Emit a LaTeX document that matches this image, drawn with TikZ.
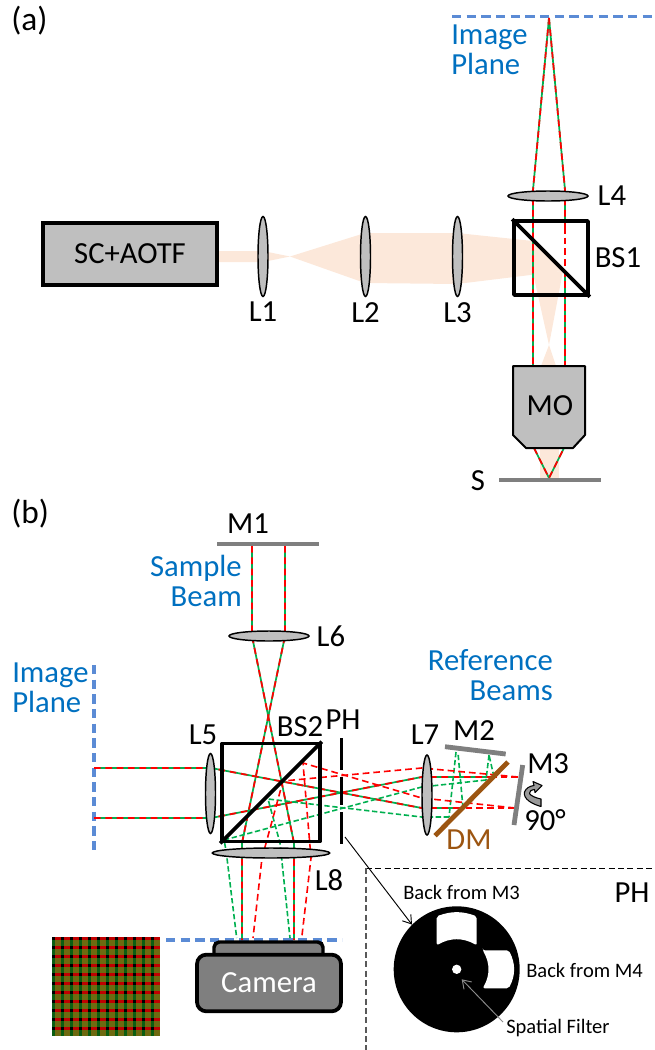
\documentclass[tikz,border=0pt]{standalone}
\usepackage{fontspec}
\setmainfont{Carlito}
\usepackage{xcolor}
\usetikzlibrary{positioning,calc,shapes.geometric,arrows.meta}
\definecolor{beamfill}{HTML}{FCE8DA}
\definecolor{lensgray}{HTML}{BFBFBF}
\definecolor{bargray}{HTML}{7F7F7F}
\definecolor{planeblue}{HTML}{5B8BD5}
\definecolor{textblue}{HTML}{0070C0}
\definecolor{raygreen}{HTML}{00B050}
\definecolor{rayred}{HTML}{FF0000}
\definecolor{dmbrown}{HTML}{9C5511}
\definecolor{mixolive}{HTML}{6E6A10}
\definecolor{mixgreen}{HTML}{0B5E12}
\definecolor{mixred}{HTML}{C00000}

\begin{document}
\begin{tikzpicture}[
  x=0.75pt, y=-0.75pt,
  lbl/.style={font=\fontsize{23}{22.5}\selectfont, inner sep=0pt},
  small/.style={font=\fontsize{15.4}{18}\selectfont, inner sep=0pt},
  bluelbl/.style={lbl, text=textblue},
  lensv/.style={shape=ellipse, draw=black, fill=lensgray, line width=1.1pt, inner sep=0pt, minimum width=7.5pt, minimum height=60pt},
  lensh/.style={shape=ellipse, draw=black, fill=lensgray, line width=1.1pt, inner sep=0pt},
  cube/.style={draw=black, line width=2.8pt, inner sep=0pt, line join=round},
  bar/.style={draw=bargray, line width=3.6pt},
  imgplane/.style={draw=planeblue, line width=2.6pt, dash pattern=on 7pt off 4pt},
  beam/.style={fill=beamfill, draw=none},
  rgray/.style={draw=raygreen, line width=1.3pt, postaction={draw=rayred, line width=1.3pt, dash pattern=on 5pt off 3.5pt}},
  redray/.style={draw=rayred, line width=1.2pt, dash pattern=on 5pt off 3pt},
  greenray/.style={draw=raygreen, line width=1.2pt, dash pattern=on 4pt off 2pt},
]
\useasboundingbox (0,0) rectangle (655,1050);

% ---------- Panel (a) ----------
\node[lbl, anchor=west] (tagA) at (11,21) {\fontsize{25}{26}\selectfont (a)};
% excitation beam
\fill[beam] (217,251) -- (263,251) -- (290,256.5) -- (365,233) -- (457,233) -- (533,241) -- (563,271) -- (457,284) -- (365,283) -- (290,256.5) -- (263,262) -- (217,262) -- cycle;
\fill[beam] (533,273) -- (563,271) -- (549,345) -- cycle;
\fill[beam] (549,345) -- (541,366) -- (556,366) -- cycle;
\fill[beam] (540,448) -- (559,448) -- (559,478) -- (540,478) -- cycle;
% image plane and rays
\draw[imgplane] (452,16.5) -- (655,16.5);
\draw[rgray] (549,18) -- (533,190) -- (533,366);
\draw[rgray] (549,18) -- (565,190) -- (565,227);
\draw[redray] (565,227) -- (565,270);
\draw[rgray] (565,270) -- (565,366);
\draw[rgray] (534,448) -- (549,478) -- (564,448);
\node[bluelbl, anchor=west, align=left] (planeA) at (451,50) {Image\\Plane};

\node[draw=black, fill=lensgray, line width=2.8pt, minimum width=130.5pt, minimum height=46.5pt, lbl] (source) at (130,254) {SC+AOTF};
\node[lensv] (Lone) at (263,256.5) {};
\node[lensv] (Ltwo) at (365.5,256.5) {};
\node[lensv] (Lthree) at (457.5,256.5) {};
\node[lensh, minimum width=60pt, minimum height=7.5pt] (Lfour) at (548,196) {};
\node[lbl, below=3.5pt of Lone] (lblone) {L1};
\node[lbl, below=3.5pt of Ltwo] (lbltwo) {L2};
\node[lbl, below=3.5pt of Lthree] (lblthree) {L3};
\node[lbl, right=6.5pt of Lfour] (lblfour) {L4};
\node[cube, minimum size=55.5pt] (BSone) at (551,258) {};
\draw[cube] (BSone.north west) -- (BSone.south east);
\node[lbl, right=3.5pt of BSone] (lblBSone) {BS1};
\draw[draw=black, fill=lensgray, line width=1.5pt, line join=round] (513,366) -- (585,366) -- (585,435) -- (573,448) -- (526,448) -- (513,435) -- cycle;
\node[lbl] (MO) at (550,406) {MO};
\draw[bar] (499,480) -- (601,480);
\node[lbl] (lblS) at (478,481) {S};

% ---------- Panel (b) ----------
\node[lbl, anchor=west] (tagB) at (11,514) {\fontsize{25}{26}\selectfont (b)};
\draw[bar] (217,544) -- (319,544);
\node[lbl] (lblMone) at (248,524) {M1};
\node[bluelbl, anchor=east, align=right] (sampleB) at (242,581) {Sample\\Beam};
\node[bluelbl, anchor=east, align=right] (refB) at (553,675) {Reference\\Beams};
\node[bluelbl, anchor=west, align=left] (planeB) at (12,688) {Image\\Plane};
\draw[imgplane] (94,665) -- (94,852);
\draw[imgplane] (166,940) -- (342,940);
% sample beam rays
\draw[rgray] (252,546) -- (252,636) -- (294,843) -- (294,940);
\draw[rgray] (285,546) -- (285,636) -- (242,843) -- (242,940);
% object beam through the pinhole
\draw[rgray] (94,768) -- (211,768) -- (421.7,808) -- (463,808);
\draw[rgray] (94,818) -- (211,818) -- (421.7,777) -- (494,777);
% green, back from M2
\foreach \ax/\ay/\bx/\by in {463/808/458/753, 494/777/489/755, 456/752/449/817, 489/755/486/780} {
  \draw[greenray] (\ax,\ay) -- (\bx,\by);
}
\draw[greenray] (486,780) -- (421.7,787) -- (224,840) -- (226,850) -- (236.7,938);
\draw[greenray] (449,817) -- (421.7,817) -- (268,799) -- (280,843) -- (290,938);
% red, back from M3
\draw[redray] (518,777) -- (490,777);
\draw[redray] (515,808) -- (463,808);
\draw[redray] (518,777) -- (421.7,768) -- (283,781) -- (262,858) -- (253,938);
\draw[redray] (515,808) -- (421.7,798) -- (303,763) -- (311,858) -- (301.7,938);

\node[lensv] (Lfive) at (210.5,793.5) {};
\node[lensh, minimum width=60pt, minimum height=7.5pt] (Lsix) at (269,636) {};
\node[lensv] (Lseven) at (427,795) {};
\node[lensh, minimum width=88pt, minimum height=7.5pt] (Leight) at (271,853) {};
\node[lbl, right=5pt of Lsix] (lblsix) {L6};
\node[lbl] (lblfive) at (203,735) {L5};
\node[lbl] (lblseven) at (425,735) {L7};
\node[lbl] (lbleight) at (329,880) {L8};
\node[cube, minimum size=73.5pt] (BStwo) at (271,792.5) {};
\draw[cube] (BStwo.south west) -- (BStwo.north east);
\node[lbl] (lblBStwo) at (300,727) {BS2};
\node[lbl] (lblPH) at (343,720) {PH};
% pinhole plate with its two gaps
\draw[line width=2pt] (341.7,738) -- (341.7,770) (341.7,777) -- (341.7,805) (341.7,812) -- (341.7,844);
\coordinate (phfoot) at (345,837);

\draw[bar] (445,746.7) -- (505.7,754);
\draw[bar] (522.7,765) -- (514,825);
\draw[draw=dmbrown, line width=3.6pt] (435,835.7) -- (508,762);
\node[lbl] (lblMtwo) at (474,731) {M2};
\node[lbl, anchor=west] (lblMthree) at (527,764) {M3};
\node[lbl, anchor=west] (lblninety) at (524,820) {90°};
\node[lbl, text=dmbrown] (lblDM) at (469,840) {DM};
\draw[draw=black, fill=lensgray!80!black, line width=0.8pt, line join=round] (541,806.5) .. controls (532,804) and (523,799) .. (524.5,792) .. controls (526,788) and (530,786) .. (534,785.5) -- (533,781.5) -- (542,785.5) -- (535,792.5) -- (534.5,789.5) .. controls (531,790) and (529,791.5) .. (529.5,793.5) .. controls (531,796) and (536,798) .. (541,799) -- cycle;

% camera
\draw[draw=black, fill=bargray, line width=2.6pt, rounded corners=4pt] (214,955) -- (214,942) -- (323,942) -- (323,955);
\node[draw=black, fill=bargray, line width=2.8pt, rounded corners=7pt, minimum width=108pt, minimum height=42.5pt, text=white, lbl] (camera) at (269,983) {Camera};

% detected fringe pattern
\fill[mixolive] (52,937) rectangle (160,1036);
\begin{scope}
\clip (52,937) rectangle (160,1036);
\foreach \i in {0,...,11} {
  \fill[mixgreen] (52+9*\i,937) rectangle (55+9*\i,1036);
}
\foreach \j in {0,...,10} {
  \fill[mixred] (52,937+9*\j) rectangle (160,940+9*\j);
}
\foreach \i in {0,...,11} {
  \foreach \j in {0,...,10} {
    \fill[black] (52+9*\i,937+9*\j) rectangle (55+9*\i,940+9*\j);
  }
}
\end{scope}

% pinhole inset
\draw[draw=black, line width=0.7pt, dash pattern=on 4.5pt off 2.5pt] (366,868) -- (655,868);
\draw[draw=black!65, line width=1pt, dash pattern=on 4.5pt off 2.5pt] (366,868) -- (366,1050);
\node[shape=circle, fill=black, inner sep=0pt, minimum size=94.5pt] (disc) at (456.7,969.3) {};
\begin{scope}[shift={(disc.center)}]
\fill[white, rounded corners=1.5pt] (-20,-53) to[bend left=20] (20,-53) -- (20,-24) to[bend right=30] (-20,-24) -- cycle;
\fill[white, rounded corners=1.5pt] (26,-19) -- (52,-19) to[bend left=28] (52,19) -- (26,19) to[bend right=30] (26,-19) -- cycle;
\fill[white] (0,0) circle[radius=3.5pt];
\coordinate (holeend) at (5,10);
\end{scope}
\draw[-{Straight Barb[length=6pt,width=8pt]}, line width=0.7pt] (phfoot) -- (disc.135);
\node[small, anchor=west] (lblbackthree) at (403,892) {Back from M3};
\node[small, anchor=west] (lblbackfour) at (526,970) {Back from M4};
\node[small, anchor=west] (lblfilter) at (506,1028) {Spatial Filter};
\node[lbl] (lblPHtwo) at (632,893) {PH};
\coordinate (filterfoot) at (503,1022);
\draw[-{Straight Barb[length=6pt,width=8pt]}, draw=black!45, line width=0.7pt] (filterfoot) -- (holeend);
\end{tikzpicture}
\end{document}
